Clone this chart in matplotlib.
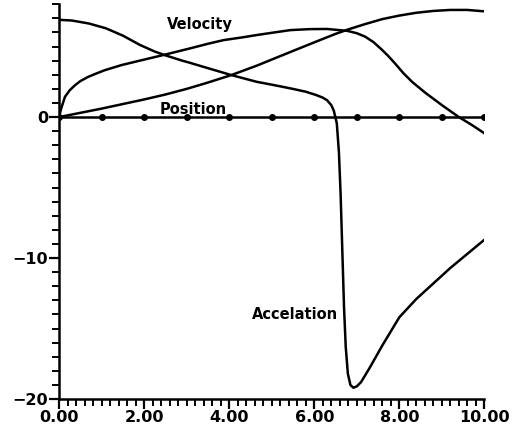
import matplotlib
matplotlib.use("Agg")
import matplotlib.pyplot as plt
from matplotlib.ticker import MultipleLocator, FixedLocator

# --- Data ---
accel_x = [0.0, 0.3, 0.7, 1.1, 1.5, 1.9, 2.25, 2.5, 2.9, 3.1, 3.5, 4.05, 4.65, 5.0,
           5.45, 5.8, 6.05, 6.2, 6.3, 6.4, 6.46, 6.53, 6.58, 6.62, 6.66, 6.7,
           6.74, 6.79, 6.85, 6.92, 7.0, 7.1, 7.3, 7.6, 8.0, 8.4, 8.8, 9.2,
           9.6, 10.0]
accel_y = [6.9, 6.85, 6.64, 6.3, 5.78, 5.12, 4.65, 4.38, 4.0, 3.83, 3.47, 2.98, 2.5, 2.3,
           2.03, 1.8, 1.56, 1.38, 1.2, 0.85, 0.45, -0.44, -2.5, -5.5, -9.5, -13.5,
           -16.3, -18.2, -19.0, -19.2, -19.1, -18.8, -17.8, -16.2, -14.2,
           -12.9, -11.8, -10.7, -9.7, -8.7]

veloc_x = [0.0, 0.05, 0.14, 0.25, 0.38, 0.5, 0.69, 0.9, 1.08, 1.47, 1.95, 2.45,
           3.05, 3.5, 3.87, 4.3, 4.65, 5.05, 5.44, 5.9, 6.3, 6.77, 7.0, 7.2, 7.4,
           7.6, 7.75, 7.9, 8.1, 8.3, 8.6, 9.0, 9.4, 9.7, 10.0]
veloc_y = [0.0, 0.6, 1.44, 1.9, 2.27, 2.55, 2.86, 3.12, 3.33, 3.69, 4.04, 4.4,
           4.85, 5.2, 5.46, 5.65, 5.82, 6.0, 6.17, 6.24, 6.25, 6.12, 5.95, 5.7, 5.3,
           4.75, 4.3, 3.8, 3.1, 2.5, 1.75, 0.85, 0.0, -0.55, -1.15]

posit_x = [0.0, 1.0, 2.0, 2.5, 3.0, 3.5, 4.05, 4.65, 5.0, 5.45, 6.0, 6.5, 6.8, 7.2,
           7.6, 8.0, 8.4, 8.8, 9.2, 9.6, 10.0]
posit_y = [0.0, 0.6, 1.25, 1.6, 2.0, 2.45, 2.98, 3.65, 4.08, 4.63, 5.3, 5.9, 6.22,
           6.6, 6.95, 7.2, 7.4, 7.53, 7.6, 7.6, 7.5]

zero_x = [0, 1, 2, 3, 4, 5, 6, 7, 8, 9, 10]
zero_y = [0, 0, 0, 0, 0, 0, 0, 0, 0, 0, 0]

x_ticks = [0, 2, 4, 6, 8, 10]
x_ticklabels = ["0.00", "2.00", "4.00", "6.00", "8.00", "10.00"]
y_ticks = [-20, -10, 0]
y_ticklabels = ["\u221220", "\u221210", "0"]

fig = plt.figure(figsize=(5.15, 4.3), dpi=100)
ax = fig.add_axes([0.1146, 0.072, 0.826, 0.918])

lw = 1.8
ax.plot(accel_x, accel_y, color="k", lw=lw)
ax.plot(veloc_x, veloc_y, color="k", lw=lw)
ax.plot(posit_x, posit_y, color="k", lw=lw)
ax.plot(zero_x, zero_y, color="k", lw=lw, marker="o", ms=4)

ax.set_xlim(0, 10)
ax.set_ylim(-20, 8)

for s in ["top", "right"]:
    ax.spines[s].set_visible(False)
for s in ["left", "bottom"]:
    ax.spines[s].set_linewidth(1.8)

ax.xaxis.set_major_locator(FixedLocator(x_ticks))
ax.xaxis.set_minor_locator(MultipleLocator(0.2))
ax.yaxis.set_major_locator(FixedLocator(y_ticks))
ax.yaxis.set_minor_locator(MultipleLocator(1))
ax.set_xticklabels(x_ticklabels, fontweight="bold", fontsize=11.5)
ax.set_yticklabels(y_ticklabels, fontweight="bold", fontsize=11.5)
ax.tick_params(which="major", direction="out", length=7, width=1.6, pad=1)
ax.tick_params(which="minor", direction="out", length=5, width=1.4)

ax.text(3.3, 6.6, "Velocity", fontweight="bold", fontsize=10.5, ha="center", va="center")
ax.text(3.15, 0.55, "Position", fontweight="bold", fontsize=10.5, ha="center", va="center")
ax.text(5.55, -14.0, "Accelation", fontweight="bold", fontsize=10.5, ha="center", va="center")

plt.savefig("out.png", dpi=100)
